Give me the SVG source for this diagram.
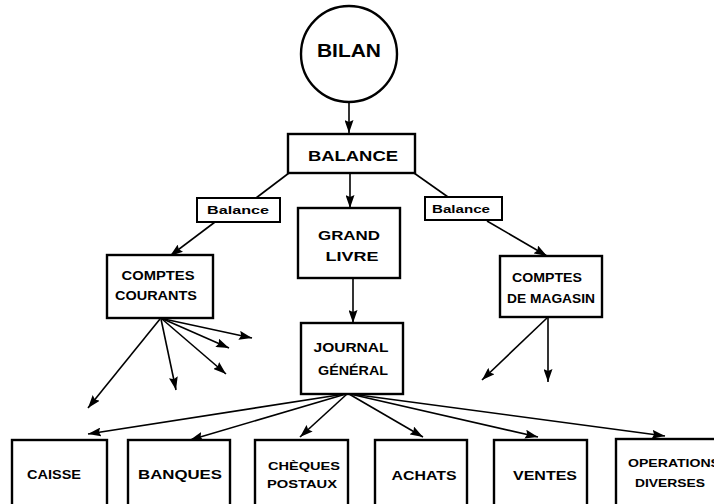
<svg xmlns="http://www.w3.org/2000/svg" width="714" height="504" viewBox="0 0 714 504">
<style>
.box{fill:#fff;stroke:#000;stroke-width:2.4}
.lbl{fill:#fff;stroke:#000;stroke-width:2}
.t{font-family:"Liberation Sans",Arial,sans-serif;font-weight:bold;fill:#000;text-anchor:middle}
.c{stroke:#000;stroke-width:1.6;fill:none}
.a{marker-end:url(#ah)}
</style>
<defs>
<marker id="ah" markerUnits="userSpaceOnUse" markerWidth="13" markerHeight="9" refX="13" refY="4.5" orient="auto">
<path d="M0,0 L13,4.5 L0,9 L2,4.5 z" fill="#000"/>
</marker>
</defs>
<rect width="714" height="504" fill="#fff"/>
<g id="connectors">
<line class="c a" x1="349" y1="102" x2="349" y2="133"/>
<line class="c a" x1="350" y1="174" x2="350" y2="208"/>
<line class="c" x1="289" y1="173" x2="256" y2="198"/>
<line class="c" x1="414" y1="173" x2="448" y2="197"/>
<line class="c a" x1="215" y1="222" x2="170" y2="256"/>
<line class="c a" x1="487" y1="221" x2="547" y2="256"/>
<line class="c a" x1="353" y1="278" x2="353" y2="323"/>
<line class="c a" x1="160" y1="319" x2="88" y2="408"/>
<line class="c a" x1="161" y1="319" x2="176" y2="390"/>
<line class="c a" x1="162" y1="319" x2="226" y2="374"/>
<line class="c a" x1="163" y1="319" x2="229" y2="348"/>
<line class="c a" x1="164" y1="319" x2="252" y2="338"/>
<line class="c a" x1="547" y1="318" x2="482" y2="380"/>
<line class="c a" x1="548" y1="318" x2="548" y2="382"/>
<line class="c a" x1="345" y1="394" x2="88" y2="434"/>
<line class="c a" x1="346" y1="394" x2="190" y2="440"/>
<line class="c a" x1="347" y1="394" x2="300" y2="437"/>
<line class="c a" x1="349" y1="394" x2="423" y2="437"/>
<line class="c a" x1="350" y1="394" x2="538" y2="437"/>
<line class="c a" x1="351" y1="394" x2="665" y2="436"/>
</g>
<g id="bilan">
<circle class="box" cx="349" cy="54" r="48"/>
<text class="t" x="349" y="57" font-size="19" textLength="64" lengthAdjust="spacingAndGlyphs">BILAN</text>
</g>
<g id="balance">
<rect class="box" x="288" y="134" width="127" height="39"/>
<text class="t" x="353" y="161" font-size="15" textLength="90" lengthAdjust="spacingAndGlyphs">BALANCE</text>
</g>
<g id="label-balance-left">
<rect class="lbl" x="197" y="198" width="83" height="24"/>
<text class="t" x="238" y="214" font-size="11" textLength="62" lengthAdjust="spacingAndGlyphs">Balance</text>
</g>
<g id="label-balance-right">
<rect class="lbl" x="425" y="197" width="77" height="23"/>
<text class="t" x="461" y="213" font-size="11" textLength="58" lengthAdjust="spacingAndGlyphs">Balance</text>
</g>
<g id="grand-livre">
<rect class="box" x="298" y="208" width="102" height="70"/>
<text class="t" x="349" y="240" font-size="13" textLength="62" lengthAdjust="spacingAndGlyphs">GRAND</text>
<text class="t" x="352" y="261" font-size="13" textLength="53" lengthAdjust="spacingAndGlyphs">LIVRE</text>
</g>
<g id="comptes-courants">
<rect class="box" x="107" y="255" width="106" height="63"/>
<text class="t" x="158" y="280" font-size="12" textLength="73" lengthAdjust="spacingAndGlyphs">COMPTES</text>
<text class="t" x="156" y="300" font-size="12" textLength="82" lengthAdjust="spacingAndGlyphs">COURANTS</text>
</g>
<g id="comptes-magasin">
<rect class="box" x="500" y="256" width="102" height="61"/>
<text class="t" x="547" y="282" font-size="12" textLength="70" lengthAdjust="spacingAndGlyphs">COMPTES</text>
<text class="t" x="551" y="303" font-size="12" textLength="88" lengthAdjust="spacingAndGlyphs">DE MAGASIN</text>
</g>
<g id="journal-general">
<rect class="box" x="301" y="323" width="102" height="71"/>
<text class="t" x="351" y="352" font-size="13" textLength="75" lengthAdjust="spacingAndGlyphs">JOURNAL</text>
<text class="t" x="353" y="375" font-size="13" textLength="70" lengthAdjust="spacingAndGlyphs">GÉNÉRAL</text>
</g>
<g id="caisse">
<rect class="box" x="12" y="440" width="95" height="90"/>
<text class="t" x="54" y="479" font-size="13" textLength="54" lengthAdjust="spacingAndGlyphs">CAISSE</text>
</g>
<g id="banques">
<rect class="box" x="128" y="440" width="102" height="90"/>
<text class="t" x="180" y="479" font-size="13" textLength="84" lengthAdjust="spacingAndGlyphs">BANQUES</text>
</g>
<g id="cheques-postaux">
<rect class="box" x="255" y="440" width="93" height="90"/>
<text class="t" x="304" y="470" font-size="11" textLength="72" lengthAdjust="spacingAndGlyphs">CHÈQUES</text>
<text class="t" x="302" y="488" font-size="11" textLength="70" lengthAdjust="spacingAndGlyphs">POSTAUX</text>
</g>
<g id="achats">
<rect class="box" x="375" y="440" width="92" height="90"/>
<text class="t" x="424" y="480" font-size="13" textLength="65" lengthAdjust="spacingAndGlyphs">ACHATS</text>
</g>
<g id="ventes">
<rect class="box" x="494" y="440" width="93" height="90"/>
<text class="t" x="545" y="480" font-size="13" textLength="64" lengthAdjust="spacingAndGlyphs">VENTES</text>
</g>
<g id="operations-diverses">
<rect class="box" x="616" y="439" width="110" height="90"/>
<text class="t" x="674" y="467" font-size="11" textLength="92" lengthAdjust="spacingAndGlyphs">OPERATIONS</text>
<text class="t" x="670" y="487" font-size="11" textLength="70" lengthAdjust="spacingAndGlyphs">DIVERSES</text>
</g>
</svg>
